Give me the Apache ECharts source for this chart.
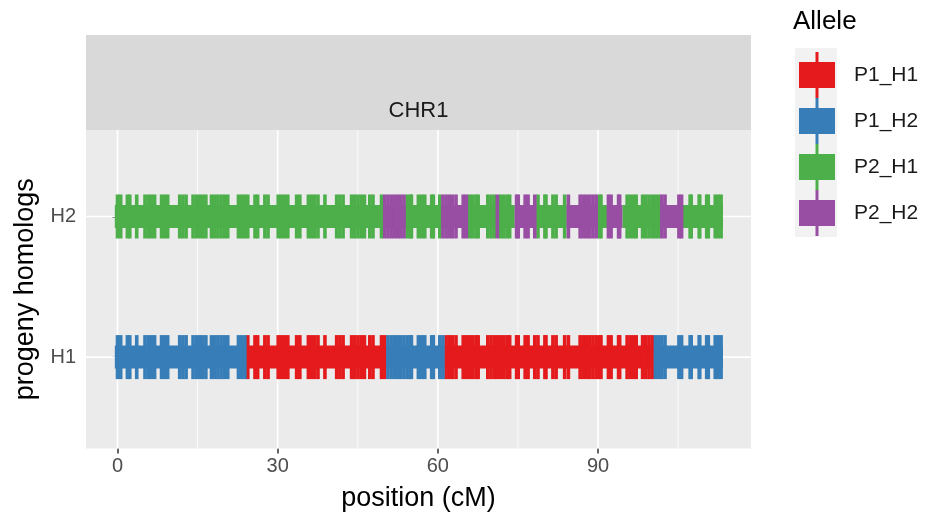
<!DOCTYPE html>
<html>
<head>
<meta charset="utf-8">
<script src="https://cdn.jsdelivr.net/npm/echarts@6/dist/echarts.min.js"></script>
<style>
  html, body { margin: 0; padding: 0; background: #ffffff; }
  #chart { width: 927px; height: 517px; }
</style>
</head>
<body>
<div id="chart"></div>
<script>
// Progeny homolog haplotype plot for chromosome CHR1

const chromosome = 'CHR1';
const homologs = ['H1', 'H2'];
const alleles = ['P1_H1', 'P1_H2', 'P2_H1', 'P2_H2'];
const alleleColors = ['#e41a1c', '#377eb8', '#4daf4a', '#984ea3'];

// x-axis breaks (cM)
const xTicks = [0, 30, 60, 90];
const xMinorBreaks = [15, 45, 75, 105];

// marker positions along the linkage map (cM)
const markerPos = [
  0, 0.6, 1.85, 2.3, 3.6, 5.15, 5.75, 6.35, 6.95, 8.25, 8.85, 9.4,
  11.65, 12.25, 12.85, 14.15, 14.75, 15.35, 15.95, 16.55,
  17.6, 18.2, 18.8, 19.4, 20.0, 20.65, 22.65, 23.25, 23.85, 24.4,
  25.75, 26.25, 27.6, 28.2, 30.1, 30.7, 31.3, 31.9, 33.55, 34.15,
  35.75, 36.35, 36.95, 37.55, 38.85, 41.05, 41.65, 42.25,
  43.85, 44.45, 45.05, 45.65, 46.25, 47.25, 47.85,
  49.45, 50.05, 50.65, 51.25, 51.85, 52.45, 53.05, 53.65, 54.25, 54.85, 55.05,
  56.35, 56.95, 57.55, 58.85, 59.15, 60.35, 60.95, 61.55, 62.15, 62.75, 63.4,
  64.75, 65.35, 65.95, 66.55, 67.15, 67.55,
  69.35, 69.95, 70.55, 71.15, 71.75, 72.35, 72.95, 73.45,
  74.75, 75.05, 76.35, 76.9, 78.15, 78.75, 80.05, 80.25, 81.55, 82.15, 83.75, 84.45,
  86.65, 87.25, 87.85, 88.45, 89.05, 89.65, 90.25, 90.55, 91.95, 92.45, 93.85, 94.05,
  95.45, 96.05, 96.65, 97.15, 98.35, 98.95, 99.55, 100.15, 100.75, 101.35, 101.95, 102.55,
  105.15, 105.65, 107.25, 107.45, 108.95, 109.05, 110.35, 110.65, 111.95, 112.5, 113.05
];

// haplotype blocks: breakpoints (cM) and inherited allele of each block
const h1Breaks = [-0.5, 24.3, 50.1, 61.3, 100.7, 113.4];
const h1Alleles = ['P1_H2', 'P1_H1', 'P1_H2', 'P1_H1', 'P1_H2'];
const h2Breaks = [-0.5, 49.6, 54.1, 60.4, 65.4, 70.7, 71.7, 74.4, 78.2, 84.1, 89.8, 91.9, 94.6, 101.9, 105.9, 113.4];
const h2Alleles = ['P2_H1', 'P2_H2', 'P2_H1', 'P2_H2', 'P2_H1', 'P2_H2', 'P2_H1', 'P2_H2',
                   'P2_H1', 'P2_H2', 'P2_H1', 'P2_H2', 'P2_H1', 'P2_H2', 'P2_H1'];

const FONT = '"Liberation Sans", Arial, sans-serif';

const blocks = [
  { y: 1, breaks: h1Breaks, alleles: h1Alleles },
  { y: 2, breaks: h2Breaks, alleles: h2Alleles }
];

// homolog band segments
const bandData = [];
blocks.forEach(b => {
  for (let i = 0; i < b.alleles.length; i++) {
    bandData.push([b.breaks[i], b.breaks[i + 1], b.y, alleles.indexOf(b.alleles[i])]);
  }
});

// allele at a marker from its block
function alleleAt(b, pos) {
  for (let i = 0; i < b.alleles.length; i++) {
    if (pos >= b.breaks[i] && pos <= b.breaks[i + 1]) return b.alleles[i];
  }
  return b.alleles[b.alleles.length - 1];
}

const markerSeries = alleles.map((a, k) => {
  const pts = [];
  blocks.forEach(b => {
    markerPos.forEach(p => { if (alleleAt(b, p) === a) pts.push([p, b.y]); });
  });
  return {
    name: a,
    type: 'scatter',
    symbol: 'rect',
    symbolSize: [3.6, 44],
    itemStyle: { color: alleleColors[k], opacity: 1 },
    data: pts,
    silent: true,
    z: 4
  };
});

// panel grid lines
const gridData = [];
xTicks.forEach(v => gridData.push(['x', v, 1.6]));
xMinorBreaks.forEach(v => gridData.push(['x', v, 0.8]));
[1, 2].forEach(v => gridData.push(['y', v, 1.6]));

const chart = echarts.init(document.getElementById('chart'), null, { renderer: 'canvas' });

const legendIcon = 'path://M0,10H36V36H0Z M16.5,0H19.5V46H16.5Z';

chart.setOption({
  animation: false,
  backgroundColor: '#ffffff',
  textStyle: { fontFamily: FONT },
  grid: { left: 86, right: 176, top: 130, bottom: 67, show: true, backgroundColor: '#ebebeb', borderWidth: 0 },
  xAxis: {
    type: 'value',
    min: -5.9,
    max: 118.65,
    name: 'position (cM)',
    nameLocation: 'middle',
    nameGap: 50,
    nameTextStyle: { fontSize: 27, color: '#000000', fontFamily: FONT, verticalAlign: 'middle' },
    axisLine: { show: false },
    axisTick: { show: true, customValues: xTicks, length: 5, lineStyle: { color: '#333333', width: 1.5 } },
    axisLabel: { customValues: xTicks, fontSize: 20, color: '#4d4d4d', margin: 8, fontFamily: FONT },
    splitLine: { show: false }
  },
  yAxis: {
    type: 'value',
    min: 0.35,
    max: 2.615,
    name: 'progeny homologs',
    nameLocation: 'middle',
    nameRotate: 90,
    nameGap: 58,
    nameTextStyle: { fontSize: 27, color: '#000000', fontFamily: FONT, verticalAlign: 'middle' },
    axisLine: { show: false },
    axisTick: { show: true, customValues: [1, 2], length: 5, lineStyle: { color: '#333333', width: 1.5 } },
    axisLabel: {
      customValues: [1, 2],
      fontSize: 20, color: '#4d4d4d', margin: 10, fontFamily: FONT,
      formatter: v => homologs[Math.round(v) - 1]
    },
    splitLine: { show: false }
  },
  legend: {
    orient: 'vertical',
    left: 799,
    top: 52,
    padding: 0,
    itemWidth: 36,
    itemHeight: 46,
    itemGap: 0,
    selectedMode: false,
    data: alleles.map(a => ({ name: a, icon: legendIcon })),
    textStyle: { fontSize: 21, color: '#1a1a1a', fontFamily: FONT, padding: [0, 0, 0, 14] }
  },
  graphic: [
    { type: 'rect', shape: { x: 86, y: 35, width: 665, height: 95 }, style: { fill: '#d9d9d9' }, z: 0 },
    { type: 'text', x: 418.5, y: 111, style: { text: chromosome, fontSize: 22, fill: '#1a1a1a', fontFamily: FONT, align: 'center', verticalAlign: 'middle' } },
    { type: 'rect', shape: { x: 795, y: 48, width: 42, height: 189 }, style: { fill: '#f2f2f2' }, z: 0 },
    { type: 'text', x: 793, y: 22, style: { text: 'Allele', fontSize: 26, fill: '#000000', fontFamily: FONT, align: 'left', verticalAlign: 'middle' } }
  ],
  series: [
    {
      type: 'custom',
      name: 'grid',
      silent: true,
      z: 1,
      data: gridData,
      renderItem: (params, api) => {
        const cs = params.coordSys;
        const d = gridData[params.dataIndex];
        if (d[0] === 'x') {
          const px = api.coord([d[1], 1])[0];
          return { type: 'line', shape: { x1: px, y1: cs.y, x2: px, y2: cs.y + cs.height }, style: { stroke: '#ffffff', lineWidth: d[2] } };
        }
        const py = api.coord([0, d[1]])[1];
        return { type: 'line', shape: { x1: cs.x, y1: py, x2: cs.x + cs.width, y2: py }, style: { stroke: '#ffffff', lineWidth: d[2] } };
      }
    },
    {
      type: 'custom',
      name: 'band',
      silent: true,
      z: 3,
      data: bandData,
      renderItem: (params, api) => {
        const d = bandData[params.dataIndex];
        const p0 = api.coord([d[0], d[2]]);
        const p1 = api.coord([d[1], d[2]]);
        return {
          type: 'rect',
          shape: { x: p0[0], y: p0[1] - 11.5, width: p1[0] - p0[0], height: 23 },
          style: { fill: alleleColors[d[3]] }
        };
      }
    }
  ].concat(markerSeries)
});
</script>
</body>
</html>
